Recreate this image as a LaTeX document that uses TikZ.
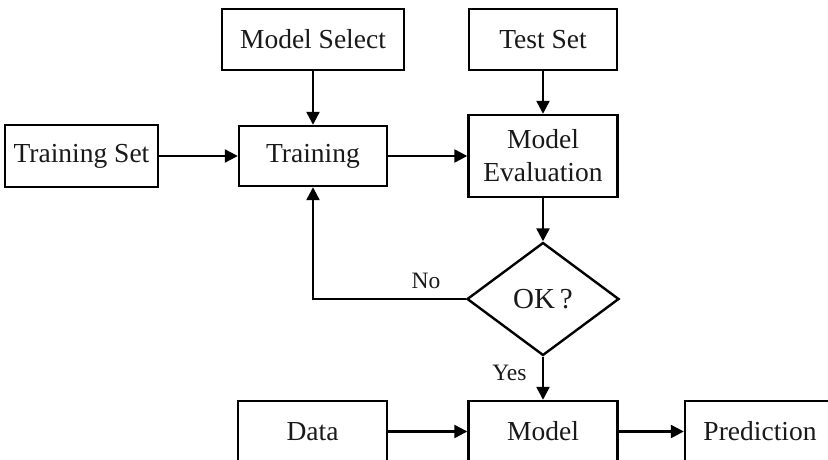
\documentclass[tikz,border=0pt]{standalone}
\usepackage{fontspec}
\setmainfont{Liberation Serif}
\usetikzlibrary{shapes.geometric,arrows.meta}
\begin{document}
\begin{tikzpicture}[x=1pt,y=-1pt,
  box/.style={draw=black,line width=2.4pt,inner sep=0pt,font=\fontsize{27.5}{33}\selectfont,align=center,text=black!90},
  conn/.style={line width=2.4pt,-{Triangle[length=13pt,width=13pt]}},
  lbl/.style={font=\fontsize{23.5}{26}\selectfont,text=black!90}]
\useasboundingbox (0,0) rectangle (828,460);
\clip (0,0) rectangle (828,460);
\node[box,minimum width=182pt,minimum height=61pt] (msel) at (313,39.5) {Model Select};
\node[box,minimum width=148pt,minimum height=61pt] (tset) at (543,39.5) {Test Set};
\node[box,minimum width=153pt,minimum height=62pt] (trset) at (81.5,156) {Training Set};
\node[box,minimum width=148pt,minimum height=60pt] (train) at (313,156) {Training};
\node[box,minimum width=149pt,minimum height=82pt] (eval) at (543,156) {Model\\Evaluation};
\node[draw=black,line width=2.4pt,shape=diamond,inner sep=0pt,minimum width=152pt,minimum height=113pt,font=\fontsize{29}{33}\selectfont,text=black!90] (ok) at (543,299) {OK\,?};
\node[box,minimum width=149pt,minimum height=61pt] (data) at (312.5,431.5) {Data};
\node[box,minimum width=149pt,minimum height=61pt] (model) at (543,431.5) {Model};
\node[box,minimum width=150pt,minimum height=61pt] (pred) at (760,431.5) {Prediction};
\draw[conn] (msel) -- (train);
\draw[conn] (tset) -- (eval);
\draw[conn] (trset) -- (train);
\draw[conn] (train) -- (eval);
\draw[conn] (eval.south) -- (ok.north);
\draw[conn] (ok.west) -| node[lbl,pos=0.13,above=6pt] {No} (train.south);
\draw[conn] (ok.south) -- node[lbl,pos=0.38,left=12pt] {Yes} (model.north);
\draw[conn] (data) -- (model);
\draw[conn] (model) -- (pred);
\end{tikzpicture}
\end{document}
